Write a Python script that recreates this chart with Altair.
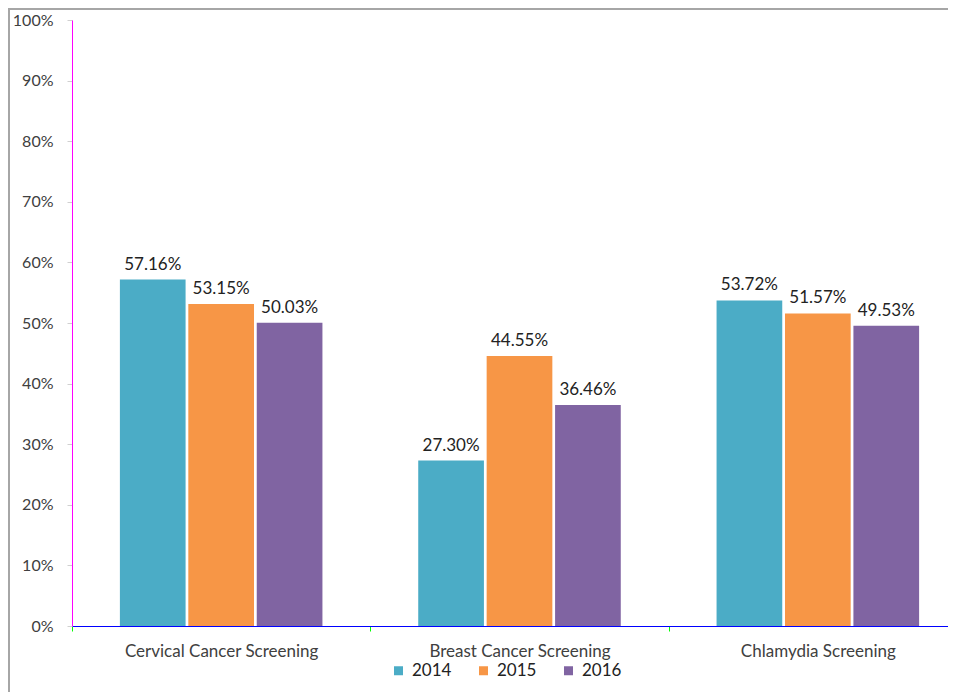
import altair as alt
import pandas as pd

measures = ["Cervical Cancer Screening", "Breast Cancer Screening", "Chlamydia Screening"]
years = ["2014", "2015", "2016"]
rate_2014 = [0.5716, 0.2730, 0.5372]
rate_2015 = [0.5315, 0.4455, 0.5157]
rate_2016 = [0.5003, 0.3646, 0.4953]
colors = ["#4BACC6", "#F79646", "#8064A2"]
y_ticks = [0.0, 0.1, 0.2, 0.3, 0.4, 0.5, 0.6, 0.7, 0.8, 0.9, 1.0]

rows = []
for yr, vals in zip(years, [rate_2014, rate_2015, rate_2016]):
    for m, v in zip(measures, vals):
        rows.append({"Measure": m, "Year": yr, "Rate": v})
df = pd.DataFrame(rows)

W, H = 876, 606
FONT = "Lato"
TXT = "#404040"

x_enc = alt.X(
    "Measure:N", sort=measures, title=None,
    scale=alt.Scale(range=[0, 895], paddingInner=0, paddingOuter=0),
    axis=alt.Axis(labelAngle=0, tickBand="extent", tickSize=5, labelPadding=12,
                  labelLimit=0, domainColor="#0000ff", tickColor="#00ff00",
                  labelColor=TXT, labelFont=FONT, labelFontSize=17, grid=False),
)
y_enc = alt.Y(
    "Rate:Q", title=None,
    scale=alt.Scale(domain=[0, 1], nice=False),
    axis=alt.Axis(values=y_ticks, format=".0%", tickSize=5, labelPadding=14,
                  domainColor="#ff00ff", tickColor="#d0d0d0", labelColor=TXT,
                  labelFont=FONT, labelFontSize=16, grid=False),
)
xoff = alt.XOffset("Year:N", sort=years,
                   scale=alt.Scale(paddingInner=0.04, paddingOuter=0.7))

bars = alt.Chart(df).mark_bar().encode(
    x=x_enc, y=y_enc, xOffset=xoff,
    color=alt.Color("Year:N", sort=years,
                    scale=alt.Scale(domain=years, range=colors),
                    legend=alt.Legend(title=None, orient="none", direction="horizontal",
                                      legendX=318, legendY=642, symbolType="square",
                                      symbolSize=81, symbolStrokeWidth=0,
                                      labelFont=FONT, labelFontSize=17, labelColor="#222222",
                                      labelOffset=5, columnPadding=23)),
)

labels = alt.Chart(df).mark_text(baseline="alphabetic", dy=-10, font=FONT,
                                 fontSize=17, color="#222222").encode(
    x=alt.X("Measure:N", sort=measures), y="Rate:Q", xOffset=alt.XOffset("Year:N", sort=years),
    text=alt.Text("Rate:Q", format=".2%"),
)

border_df = pd.DataFrame({"k": [0]})
top_border = alt.Chart(border_df).mark_rect(color="#a6a6a6").encode(
    x=alt.value(-64), x2=alt.value(W + 10), y=alt.value(-12), y2=alt.value(-10))
left_border = alt.Chart(border_df).mark_rect(color="#a6a6a6").encode(
    x=alt.value(-64), x2=alt.value(-62), y=alt.value(-12), y2=alt.value(H + 70))

chart = alt.layer(bars, labels, top_border, left_border).properties(
    width=W, height=H,
    autosize=alt.AutoSizeParams(type="none"),
    padding={"left": 64, "top": 12, "right": 0, "bottom": 66},
).configure_view(strokeWidth=0, stroke="transparent")

chart.save("out.html", embed_options={"renderer": "svg", "actions": False})
